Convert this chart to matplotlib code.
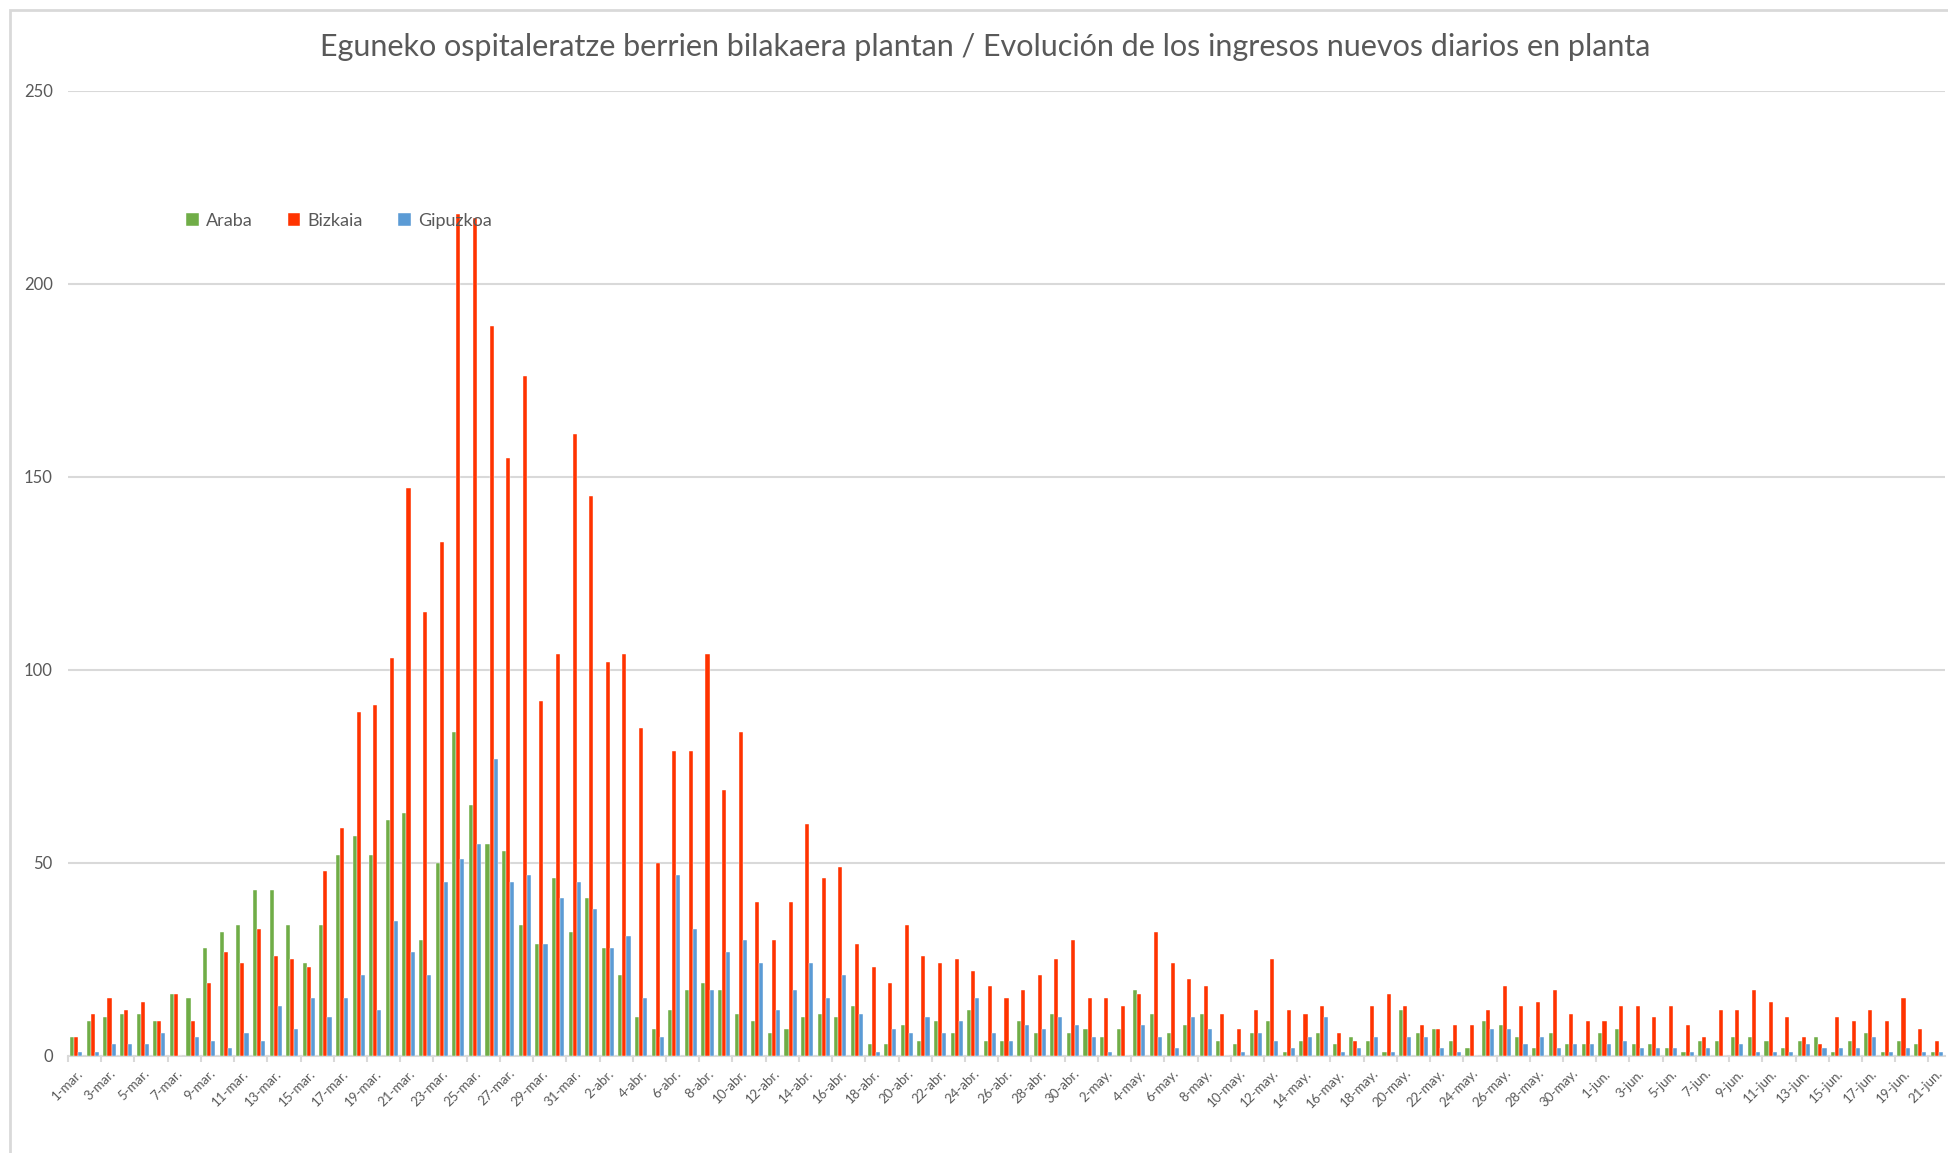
import numpy as np
import matplotlib
matplotlib.use("Agg")
import matplotlib.pyplot as plt
from matplotlib.patches import Rectangle
import datetime as dt

# ---------------- data ----------------
araba = [5, 9, 10, 11, 11, 9, 16, 15, 28, 32, 34, 43, 43, 34, 24, 34, 52, 57, 52, 61,
         63, 30, 50, 84, 65, 55, 53, 34, 29, 46, 32, 41, 28, 21, 10, 7, 12, 17, 19, 17,
         11, 9, 6, 7, 10, 11, 10, 13, 3, 3, 8, 4, 9, 6, 12, 4, 4, 9, 6, 11,
         6, 7, 5, 7, 17, 11, 6, 8, 11, 4, 3, 6, 9, 1, 4, 6, 3, 5, 4, 1,
         12, 6, 7, 4, 2, 9, 8, 5, 2, 6, 3, 3, 6, 7, 3, 3, 2, 1, 4, 4,
         5, 5, 4, 2, 4, 5, 1, 4, 6, 1, 4, 3, 1]
bizkaia = [5, 11, 15, 12, 14, 9, 16, 9, 19, 27, 24, 33, 26, 25, 23, 48, 59, 89, 91, 103,
           147, 115, 133, 218, 217, 189, 155, 176, 92, 104, 161, 145, 102, 104, 85, 50, 79, 79, 104, 69,
           84, 40, 30, 40, 60, 46, 49, 29, 23, 19, 34, 26, 24, 25, 22, 18, 15, 17, 21, 25,
           30, 15, 15, 13, 16, 32, 24, 20, 18, 11, 7, 12, 25, 12, 11, 13, 6, 4, 13, 16,
           13, 8, 7, 8, 8, 12, 18, 13, 14, 17, 11, 9, 9, 13, 13, 10, 13, 8, 5, 12,
           12, 17, 14, 10, 5, 3, 10, 9, 12, 9, 15, 7, 4]
gipuzkoa = [1, 1, 3, 3, 3, 6, 0, 5, 4, 2, 6, 4, 13, 7, 15, 10, 15, 21, 12, 35,
            27, 21, 45, 51, 55, 77, 45, 47, 29, 41, 45, 38, 28, 31, 15, 5, 47, 33, 17, 27,
            30, 24, 12, 17, 24, 15, 21, 11, 1, 7, 6, 10, 6, 9, 15, 6, 4, 8, 7, 10,
            8, 5, 1, 0, 8, 5, 2, 10, 7, 0, 1, 6, 4, 2, 5, 10, 1, 2, 5, 1,
            5, 5, 2, 1, 0, 7, 7, 3, 5, 2, 3, 3, 3, 4, 2, 2, 2, 1, 2, 0,
            3, 1, 1, 1, 3, 2, 2, 2, 5, 1, 2, 1, 1]
series_names = ["Araba", "Bizkaia", "Gipuzkoa"]
month_abbr = {3: "mar.", 4: "abr.", 5: "may.", 6: "jun."}
start_date = dt.date(2020, 3, 1)
n_days = len(araba)
dates = [start_date + dt.timedelta(days=i) for i in range(n_days)]
day_labels = [f"{d.day}-{month_abbr[d.month]}" for d in dates]
title = "Eguneko ospitaleratze berrien bilakaera plantan / Evolución de los ingresos nuevos diarios en planta"

# ---------------- style ----------------
colors = ["#70AD47", "#FF3300", "#5B9BD5"]
grey_txt = "#595959"
grid_col = "#D9D9D9"
plt.rcParams['font.family'] = ['Lato', 'DejaVu Sans']

W, H = 1948, 1153
fig = plt.figure(figsize=(W / 100, H / 100), dpi=100)
fig.patch.set_facecolor("white")

# chart border
fig.patches.append(Rectangle((10 / W, -0.01), 1.05, 1 - 10 / H + 0.01, transform=fig.transFigure,
                             fill=False, edgecolor="#D9D9D9", linewidth=2.0))

left, right = 68 / W, 1945 / W
bottom, top = 1 - 1056 / H, 1 - 90.7 / H
ax = fig.add_axes([left, bottom, right - left, top - bottom])

x = np.arange(n_days)
bw = 0.245
for k, (vals, c, name) in enumerate(zip([araba, bizkaia, gipuzkoa], colors, series_names)):
    ax.bar(x + (k - 1) * bw, vals, width=bw, color=c, label=name, zorder=3,
           edgecolor="white", linewidth=0.3)

ax.set_xlim(-0.5, n_days - 0.5)
ax.set_ylim(0, 250)
ax.set_yticks(np.arange(0, 251, 50))
ax.yaxis.grid(True, color=grid_col, linewidth=1.5, zorder=0)
ax.set_axisbelow(True)
for s in ["top", "right", "left"]:
    ax.spines[s].set_visible(False)
ax.spines["bottom"].set_color(grid_col)
ax.spines["bottom"].set_linewidth(1.5)
ax.tick_params(axis="y", length=0, labelsize=12, labelcolor=grey_txt, pad=11)

# x labels on every other category, ticks at category boundaries every 2
ax.set_xticks(x[::2])
ax.set_xticklabels([day_labels[i] for i in x[::2]], rotation=45, ha="right",
                   rotation_mode="anchor", fontsize=9.5, color=grey_txt)
ax.tick_params(axis="x", length=0, pad=8)
ax.set_xticks(np.arange(-0.5, n_days, 2), minor=True)
ax.tick_params(axis="x", which="minor", length=4, color=grid_col, width=1.5)

fig.text(985 / W, 1 - 47 / H, title, ha="center", va="center", fontsize=22, color=grey_txt)

leg = ax.legend(loc="center left", bbox_to_anchor=(0.058, 0.865), ncol=3, frameon=False,
                fontsize=13, handlelength=0.7, handleheight=0.7, handletextpad=0.4,
                columnspacing=1.95, labelcolor=grey_txt, borderpad=0)

fig.savefig("out.png", dpi=100, facecolor="white")
